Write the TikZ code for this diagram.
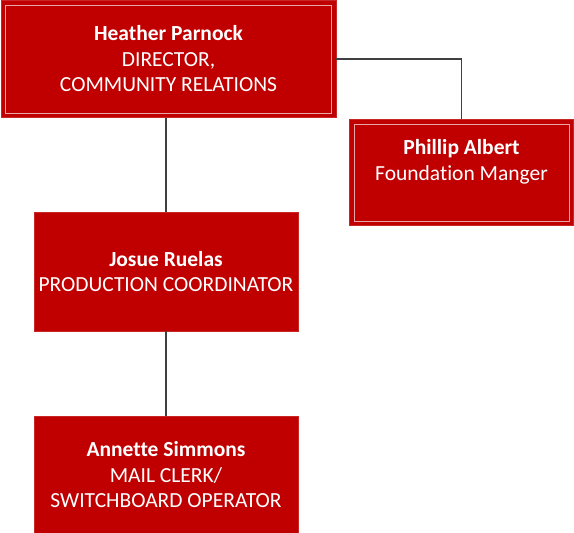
\documentclass[tikz,border=0pt]{standalone}
\usepackage{fontspec}
\setmainfont[Ligatures=NoCommon]{Carlito}
\definecolor{boxred}{HTML}{C00000}
\definecolor{linegray}{HTML}{404040}
\begin{document}
\begin{tikzpicture}[x=1pt,y=-1pt,
  box/.style={rectangle, fill=boxred, draw=boxred!85!white, line width=0.6pt, text=white, align=center, inner sep=0pt,
    font=\fontsize{21.5}{25.5}\selectfont},
  framed/.style={box, path picture={\draw[white!65!boxred, line width=0.8pt]
      ([shift={(4.5pt,-4.5pt)}]path picture bounding box.north west) rectangle
      ([shift={(-4.5pt,4.5pt)}]path picture bounding box.south east);}},
  conn/.style={draw=linegray, line width=1.6pt}]
\useasboundingbox (0,0) rectangle (574,533);
\node[framed, minimum width=335pt, minimum height=117pt] (heather) at (168.5,59)
  {\textbf{Heather Parnock}\\DIRECTOR,\\COMMUNITY RELATIONS};
\node[framed, minimum width=224pt, minimum height=106pt] (phillip) at (461.5,172.5)
  {\textbf{Phillip Albert}\\Foundation Manger\\[-8pt]\strut};
\node[box, minimum width=264pt, minimum height=119pt] (josue) at (166,271.5)
  {\textbf{Josue Ruelas}\\PRODUCTION COORDINATOR};
\node[box, minimum width=264pt, minimum height=118pt] (annette) at (166,475)
  {\textbf{Annette Simmons}\\MAIL CLERK/\\SWITCHBOARD OPERATOR};
\draw[conn] (heather.east) -| (phillip.north);
\draw[conn] (josue.north) -- (josue.north |- heather.south);
\draw[conn] (josue.south) -- (annette.north);
\end{tikzpicture}
\end{document}
